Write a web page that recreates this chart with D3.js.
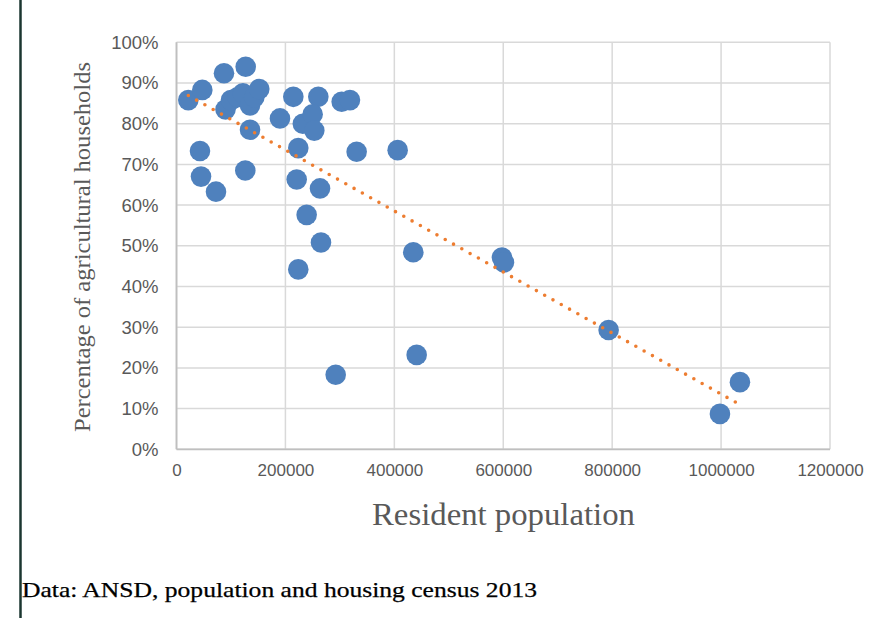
<!DOCTYPE html>
<html>
<head>
<meta charset="utf-8">
<script src="https://cdn.jsdelivr.net/npm/d3@7"></script>
<style>
  html, body { margin: 0; padding: 0; background: #fff; }
  svg { display: block; }
</style>
</head>
<body>
<svg id="chart" width="887" height="618"></svg>
<script>
// ---- data ----
const population = [
  21700, 47400, 87200, 127000,
  90000, 100000, 112000, 122000, 135000, 143000, 152000,
  135000, 190000, 214500, 260400, 303300, 318500,
  232000, 250000, 253000, 223600, 330800, 406100,
  43100, 45000, 72500, 126300, 220700, 263500,
  239000, 265300, 223600, 434800, 597600, 601300,
  793500, 441000, 292300, 997900, 1034600
];
const agriShare = [
  85.8, 88.3, 92.4, 94.0,
  83.5, 85.8, 86.5, 87.5, 84.5, 86.5, 88.5,
  78.5, 81.3, 86.6, 86.6, 85.4, 85.8,
  80.0, 82.3, 78.3, 74.0, 73.1, 73.5,
  73.3, 67.0, 63.3, 68.5, 66.3, 64.1,
  57.6, 50.8, 44.2, 48.4, 47.1, 45.9,
  29.3, 23.2, 18.3, 8.7, 16.5
];
const xTicks = [0, 200000, 400000, 600000, 800000, 1000000, 1200000];
const yTicks = [0, 10, 20, 30, 40, 50, 60, 70, 80, 90, 100];
const xTitle = "Resident population";
const yTitle = "Percentage of agricultural households";
const sourceNote = "Data: ANSD, population and housing census 2013";

(function () {
// ---- layout ----
const svg = d3.select("#chart");
const pL = 176.5, pR = 830, pT = 42.3, pB = 449.3;
const x = d3.scaleLinear().domain([0, 1200000]).range([pL, pR]);
const y = d3.scaleLinear().domain([0, 100]).range([pB, pT]);

svg.append("rect").attr("width", 887).attr("height", 618).attr("fill", "#fff");

// left page border line
svg.append("line").attr("x1", 20.5).attr("x2", 20.5).attr("y1", 0).attr("y2", 618)
  .attr("stroke", "#1b3630").attr("stroke-width", 2.5);

// gridlines
const grid = svg.append("g");
grid.selectAll("line.h").data(yTicks).join("line").attr("class", "h")
  .attr("x1", pL).attr("x2", pR)
  .attr("y1", d => y(d)).attr("y2", d => y(d))
  .attr("stroke", "#d9d9d9").attr("stroke-width", 1.5);
grid.selectAll("line.v").data(xTicks).join("line").attr("class", "v")
  .attr("y1", pT).attr("y2", pB)
  .attr("x1", d => x(d)).attr("x2", d => x(d))
  .attr("stroke", "#d9d9d9").attr("stroke-width", 1.5);
// axis lines
svg.append("line").attr("x1", pL).attr("x2", pR).attr("y1", pB).attr("y2", pB)
  .attr("stroke", "#bfbfbf").attr("stroke-width", 1.8);
svg.append("line").attr("x1", pL).attr("x2", pL).attr("y1", pT).attr("y2", pB)
  .attr("stroke", "#bfbfbf").attr("stroke-width", 1.8);

// axes (labels only)
const tickFont = "'Liberation Sans', Arial, sans-serif";
const yAxis = svg.append("g").attr("transform", `translate(${pL},0)`)
  .call(d3.axisLeft(y).tickValues(yTicks).tickFormat(d => d + "%").tickSize(0).tickPadding(18));
yAxis.select(".domain").remove();
yAxis.selectAll("text").attr("font-family", tickFont).attr("font-size", 18.5).attr("fill", "#595959");

const xAxis = svg.append("g").attr("transform", `translate(0,${pB})`)
  .call(d3.axisBottom(x).tickValues(xTicks).tickFormat(d3.format("d")).tickSize(0).tickPadding(15));
xAxis.select(".domain").remove();
xAxis.selectAll("text").attr("font-family", tickFont).attr("font-size", 17).attr("fill", "#595959");

// points
svg.append("g").selectAll("circle").data(population.map((p, i) => [p, agriShare[i]])).join("circle")
  .attr("cx", d => x(d[0])).attr("cy", d => y(d[1])).attr("r", 10.3)
  .attr("fill", "#4f81bd");

// linear trend line (least squares)
const n = population.length;
const mx = d3.mean(population), my = d3.mean(agriShare);
let sxy = 0, sxx = 0;
for (let i = 0; i < n; i++) { sxy += (population[i] - mx) * (agriShare[i] - my); sxx += (population[i] - mx) ** 2; }
const slope = sxy / sxx, intercept = my - slope * mx;
const [x0, x1] = d3.extent(population);
svg.append("path")
  .attr("d", d3.line()([[x(x0), y(intercept + slope * x0)], [x(x1), y(intercept + slope * x1)]]))
  .attr("stroke", "#ed7d31").attr("stroke-width", 3.6).attr("stroke-linecap", "round")
  .attr("stroke-dasharray", "0 9.5").attr("fill", "none");

// titles
const serif = "'Liberation Serif', 'Times New Roman', serif";
svg.append("text").attr("transform", "translate(90,247) rotate(-90)")
  .attr("text-anchor", "middle").attr("font-family", serif).attr("font-size", 23.5)
  .attr("textLength", 370).attr("lengthAdjust", "spacingAndGlyphs")
  .attr("fill", "#595959").text(yTitle);
svg.append("text").attr("x", 503.5).attr("y", 525)
  .attr("text-anchor", "middle").attr("font-family", serif).attr("font-size", 31)
  .attr("textLength", 263).attr("lengthAdjust", "spacingAndGlyphs")
  .attr("fill", "#595959").text(xTitle);
svg.append("text").attr("x", 22).attr("y", 597)
  .attr("font-family", serif).attr("font-size", 21.5)
  .attr("textLength", 515).attr("lengthAdjust", "spacingAndGlyphs")
  .attr("fill", "#000").attr("stroke", "#000").attr("stroke-width", 0.25).text(sourceNote);
})();
</script>
</body>
</html>
